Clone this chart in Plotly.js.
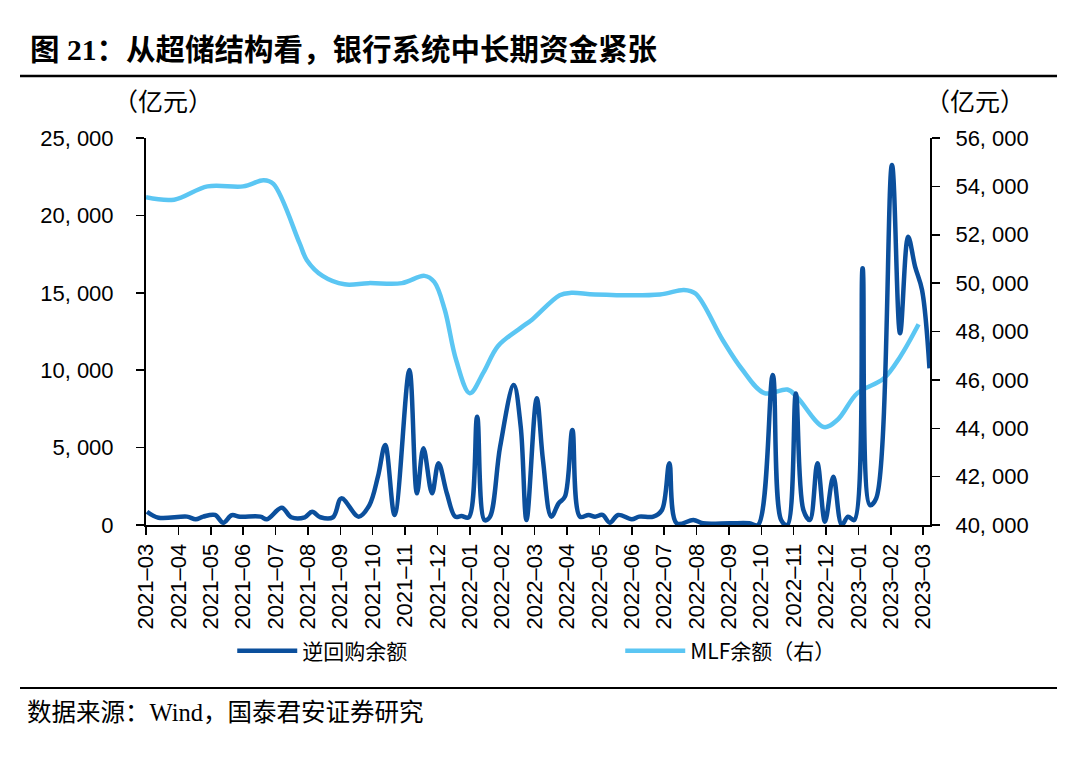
<!DOCTYPE html>
<html>
<head>
<meta charset="utf-8">
<script src="https://cdn.plot.ly/plotly-3.0.1.min.js"></script>
<style>html,body{margin:0;padding:0;background:#fff;}#chart{width:1080px;height:773px;}</style>
</head>
<body>
<div id="chart"></div>
<script>
// ---- data ----
const monthLabels = ["2021–03","2021–04","2021–05","2021–06","2021–07","2021–08","2021–09","2021–10","2021–11","2021–12",
  "2022–01","2022–02","2022–03","2022–04","2022–05","2022–06","2022–07","2022–08","2022–09","2022–10","2022–11","2022–12",
  "2023–01","2023–02","2023–03"];

const repoDates = ["2021-03-02","2021-03-13","2021-04-09","2021-04-17","2021-04-24","2021-05-05","2021-05-13","2021-05-21","2021-05-29",
  "2021-06-17","2021-06-23","2021-07-07","2021-07-16","2021-07-29","2021-08-05","2021-08-13","2021-08-25","2021-09-02","2021-09-18",
  "2021-09-28","2021-10-06","2021-10-13","2021-10-22","2021-11-05","2021-11-12","2021-11-18","2021-11-26","2021-12-02","2021-12-10",
  "2021-12-18","2021-12-24","2021-12-31","2022-01-08","2022-01-15","2022-01-20","2022-01-30","2022-02-11","2022-02-17","2022-02-22",
  "2022-03-03","2022-03-09","2022-03-17","2022-03-24","2022-03-30","2022-04-06","2022-04-13","2022-04-21","2022-04-27","2022-05-04",
  "2022-05-11","2022-05-19","2022-06-01","2022-06-08","2022-06-21","2022-06-29","2022-07-06","2022-07-13","2022-07-29","2022-08-07",
  "2022-09-02","2022-09-20","2022-09-28","2022-10-12","2022-10-20","2022-10-26","2022-11-03","2022-11-10","2022-11-16","2022-11-23",
  "2022-11-30","2022-12-08","2022-12-16","2022-12-22","2022-12-28","2023-01-05","2023-01-12","2023-01-18","2023-02-02","2023-02-09",
  "2023-02-16","2023-02-22","2023-02-28","2023-03-07"];
const repoValues = [860,470,540,370,540,650,150,630,540,
  540,370,1120,500,500,860,500,500,1720,540,
  1290,3120,5170,650,10010,2050,4950,2050,3990,2050,
  540,580,500,7000,320,500,5060,9040,6350,320,
  8180,4200,540,1400,1830,6140,540,650,540,650,
  150,650,370,540,540,970,3990,110,320,110,
  110,110,0,9690,320,0,8500,970,320,3990,
  210,3120,0,540,320,16580,1290,1720,23260,12380,
  18620,16690,15180,10120];

const mlfDates = ["2021-03-01","2021-03-28","2021-04-28","2021-06-01","2021-06-20","2021-06-29","2021-07-24","2021-07-31","2021-08-15",
  "2021-09-05","2021-09-27","2021-10-29","2021-11-19","2021-11-28","2021-12-08","2021-12-19","2022-01-01","2022-01-14","2022-01-28",
  "2022-02-17","2022-02-27","2022-03-25","2022-04-05","2022-04-27","2022-06-27","2022-07-20","2022-07-31","2022-08-26","2022-09-13",
  "2022-10-04","2022-10-26","2022-11-04","2022-11-29","2022-12-12","2022-12-31","2023-01-25","2023-02-09","2023-02-25"];
const mlfValues = [53550,53450,54000,54000,54250,54100,51650,50950,50300,
  49950,50000,50000,50300,50050,48900,46800,45450,46300,47400,
  48150,48500,49500,49600,49530,49530,49720,49570,47650,46450,
  45450,45600,45300,44050,44350,45450,46050,46950,48300];

const leftTicks = [0,5000,10000,15000,20000,25000];
const leftTickText = ["0","5, 000","10, 000","15, 000","20, 000","25, 000"];
const rightTicks = [40000,42000,44000,46000,48000,50000,52000,54000,56000];
const rightTickText = ["40, 000","42, 000","44, 000","46, 000","48, 000","50, 000","52, 000","54, 000","56, 000"];

// month index on an evenly spaced monthly axis (0 = 2021-03)
function toM(s){
  const p = s.split("-").map(Number);
  const dim = new Date(p[0], p[1], 0).getDate();
  return (p[0]-2021)*12 + (p[1]-3) + (p[2]-1)/dim;
}

const repoTrace = {
  x: repoDates.map(toM), y: repoValues, yaxis: "y2", name: "逆回购余额",
  type: "scatter", mode: "lines",
  line: {color: "#0b4f9c", width: 4.5, shape: "spline", smoothing: 1},
  hoverinfo: "skip"
};
const mlfTrace = {
  x: mlfDates.map(toM), y: mlfValues, yaxis: "y", name: "MLF余额（右）",
  type: "scatter", mode: "lines",
  line: {color: "#5bc6f3", width: 4.5, shape: "spline", smoothing: 1},
  hoverinfo: "skip"
};

const axisFont = {family: "Liberation Sans, Arial, sans-serif", size: 22, color: "#000"};
const cjk = "Liberation Serif, Noto Sans CJK SC, serif";

const layout = {
  width: 1080, height: 773,
  margin: {l: 146, r: 150, t: 138, b: 248, pad: 0},
  paper_bgcolor: "#fff", plot_bgcolor: "#fff",
  showlegend: true,
  title: {
    text: "<b>图 21：从超储结构看，银行系统中长期资金紧张</b>",
    font: {family: "Liberation Serif, Noto Sans CJK SC, serif", size: 29.5, color: "#000"},
    x: 30/1080, xanchor: "left", xref: "container",
    y: 1 - 50/773, yanchor: "middle", yref: "container"
  },
  xaxis: {
    range: [0, 24.21], tickmode: "array",
    tickvals: monthLabels.map((_, i) => i), ticktext: monthLabels,
    tickangle: -90, tickfont: axisFont,
    ticks: "outside", ticklen: 8, tickwidth: 1.5, tickcolor: "#000",
    showline: true, linecolor: "#000", linewidth: 2,
    showgrid: false, zeroline: false, fixedrange: true
  },
  yaxis2: {
    overlaying: "y", side: "left",
    range: [0, 25000], tickmode: "array", tickvals: leftTicks, ticktext: leftTickText,
    tickfont: axisFont, ticks: "outside", ticklen: 8, tickwidth: 1.5, tickcolor: "#000",
    ticklabelstandoff: 18,
    showline: true, linecolor: "#000", linewidth: 2,
    showgrid: false, zeroline: false, fixedrange: true
  },
  yaxis: {
    side: "right",
    range: [40000, 56000], tickmode: "array", tickvals: rightTicks, ticktext: rightTickText,
    tickfont: axisFont, ticks: "outside", ticklen: 8, tickwidth: 1.5, tickcolor: "#000",
    ticklabelstandoff: 11,
    showline: true, linecolor: "#000", linewidth: 2,
    showgrid: false, zeroline: false, fixedrange: true
  },
  legend: {
    orientation: "h", x: 0.11, xanchor: "left", y: -0.326, yanchor: "middle",
    font: {family: "Noto Sans CJK SC, sans-serif", size: 21, color: "#000"},
    itemwidth: 60,
    entrywidth: 313, entrywidthmode: "pixels", bgcolor: "rgba(0,0,0,0)"
  },
  annotations: [
    {text: "（亿元）", xref: "paper", yref: "paper", x: (111-146)/784, xanchor: "left", y: (525-103)/387, yanchor: "middle",
     showarrow: false, font: {family: cjk, size: 25, color: "#000"}},
    {text: "（亿元）", xref: "paper", yref: "paper", x: (923-146)/784, xanchor: "left", y: (525-103)/387, yanchor: "middle",
     showarrow: false, font: {family: cjk, size: 25, color: "#000"}},
    {text: "数据来源：Wind，国泰君安证券研究", xref: "paper", yref: "paper", x: (25-146)/784, xanchor: "left", y: (525-712)/387, yanchor: "middle",
     showarrow: false, font: {family: cjk, size: 24.5, color: "#000"}}
  ],
  shapes: [
    {type: "line", xref: "paper", yref: "paper", x0: (20-146)/784, x1: (1057-146)/784, y0: (525-76)/387, y1: (525-76)/387,
     line: {color: "#000", width: 2.5}},
    {type: "line", xref: "paper", yref: "paper", x0: (20-146)/784, x1: (1057-146)/784, y0: (525-688)/387, y1: (525-688)/387,
     line: {color: "#000", width: 2}}
  ]
};

Plotly.newPlot("chart", [repoTrace, mlfTrace], layout, {displayModeBar: false, staticPlot: true});
</script>
</body>
</html>
